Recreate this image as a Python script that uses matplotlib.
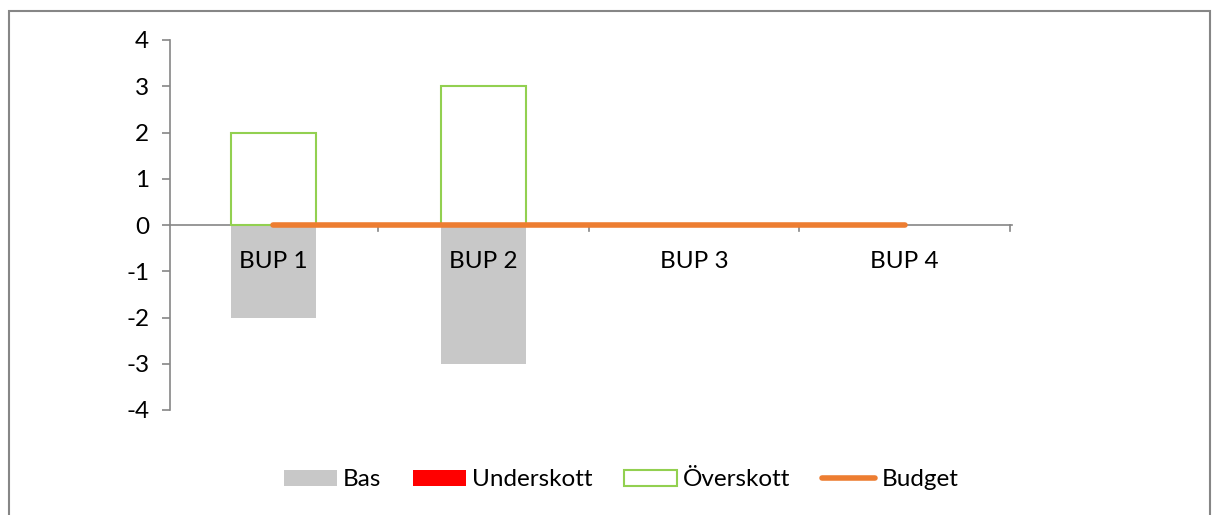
import matplotlib
matplotlib.use("Agg")
import matplotlib.pyplot as plt
import numpy as np
from matplotlib.patches import Rectangle

plt.rcParams['font.family'] = ['Lato', 'DejaVu Sans']
plt.rcParams['axes.unicode_minus'] = False

# data
categories = ["BUP 1", "BUP 2", "BUP 3", "BUP 4"]
bas = [-2, -3, 0, 0]
underskott = [0, 0, 0, 0]
overskott = [2, 3, 0, 0]
budget = [0, 0, 0, 0]

fs = 17.5
axcol = "#868686"

fig = plt.figure(figsize=(12.13, 5.15), dpi=100)
# outer chart frame (bottom edge is cut off in the original)
fig.patches.append(Rectangle((9/1213, -0.05), 1201/1213, 1.05 - 11/515, transform=fig.transFigure,
                             fill=False, edgecolor="#868686", linewidth=1.5))

ax = fig.add_axes([170/1213, 1 - 410/515, 842/1213, 370/515])
x = np.arange(len(categories))
w = 0.405

ax.bar(x, bas, w, color="#C8C8C8", label="Bas", zorder=2)
ax.bar(x, underskott, w, bottom=bas, color="#FF0000", label="Underskott", zorder=2)
# zero-height outline bars are not drawn
ov = np.array(overskott, dtype=float)
ax.bar(x, np.where(ov == 0, np.nan, ov), w, facecolor="none", edgecolor="#92D050",
       linewidth=1.5, label="Överskott", zorder=2)
ax.plot(x, budget, color="#ED7D31", linewidth=4, solid_capstyle="round",
        label="Budget", zorder=4)

ax.set_xlim(-0.49, 3.51)
ax.set_ylim(-4, 4)
ax.set_yticks(range(-4, 5))

for s in ["top", "right", "bottom"]:
    ax.spines[s].set_visible(False)
ax.spines["left"].set_color(axcol)
ax.spines["left"].set_linewidth(1.2)
ax.plot([-0.49, 3.51], [0, 0], color=axcol, linewidth=1.2, zorder=1, clip_on=False)

ax.set_xticks([])
for b in np.arange(0.5, 4, 1.0):
    ax.plot([b, b], [0, -0.12], color=axcol, linewidth=1.2, zorder=1, clip_on=False)
for i, c in enumerate(categories):
    ax.text(x[i], -0.8, c, ha="center", va="center", fontsize=fs)

ax.tick_params(axis="y", length=6, width=1.2, color=axcol, labelsize=fs, pad=9)

h, l = ax.get_legend_handles_labels()
order = [l.index(n) for n in ["Bas", "Underskott", "Överskott", "Budget"]]
fig.legend([h[i] for i in order], [l[i] for i in order], loc="center",
           bbox_to_anchor=(0.512, 0.068), ncol=4, frameon=False,
           fontsize=fs, handlelength=2.18, handleheight=0.62,
           handletextpad=0.25, columnspacing=1.3)

fig.savefig("out.png", dpi=100)
